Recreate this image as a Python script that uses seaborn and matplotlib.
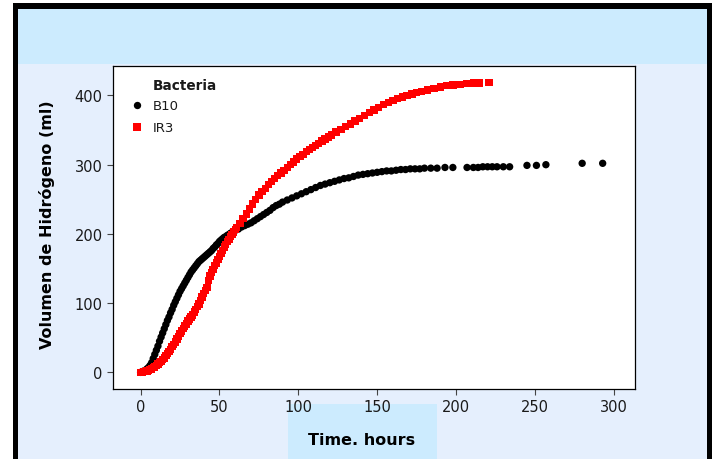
import numpy as np
import pandas as pd
import matplotlib.pyplot as plt
import seaborn as sns
from matplotlib.patches import Rectangle

# B10 - horas / volumen (ml)
b10_t = [0, 1, 2, 3, 4, 5, 6, 7, 8, 9, 10, 11, 12, 13, 14, 15, 16, 17, 18, 19,
         20, 21, 22, 23, 24, 25, 26, 27, 28, 29, 30, 31, 32, 33, 34, 35, 36, 37, 38, 39,
         40, 41, 42, 43, 44, 45, 46, 47, 48, 49, 50, 51, 52, 53, 54, 55, 56, 57, 58, 59,
         60, 62, 64, 66, 68, 70, 72, 74, 76, 78, 80, 82, 84, 86, 88, 90, 93, 96, 99,
         102, 105, 108, 111, 114, 117, 120, 123, 126, 129, 132, 135, 138,
         141, 144, 147, 150, 153, 156, 159, 162, 165, 168, 171, 174, 177, 180, 184, 188,
         193, 198, 207, 211, 214, 217, 220, 223, 226, 230, 234, 245, 251, 257, 280, 293]
b10_v = [0, 1, 2, 3, 5, 7, 10, 14, 20, 26, 32, 38, 45, 51, 57, 63, 69, 75, 80, 86,
         91, 97, 102, 107, 112, 117, 121, 125, 129, 133, 137, 141, 145, 148, 151, 154, 157, 160, 162, 164,
         166, 168, 170, 172, 174, 176, 179, 181, 184, 186, 189, 191, 193, 195, 196, 198, 199, 201, 202, 204,
         205, 207, 210, 212, 214, 216, 219, 222, 225, 228, 231, 234, 238, 241, 243, 246, 249, 252, 255,
         258, 261, 264, 267, 270, 272, 274, 276, 278, 280, 281, 283, 285,
         286, 287, 288, 289, 290, 291, 291, 292, 293, 293, 294, 294, 294, 295, 295, 295,
         296, 296, 296, 296, 296, 297, 297, 297, 297, 297, 297, 299, 299, 300, 302, 302]

# IR3
ir3_t = [0, 1, 2, 3, 4, 5, 6, 7, 8, 9, 10, 11, 12, 13, 14, 15, 16, 17, 18, 19,
         20, 21, 22, 23, 24, 25, 26, 27, 28, 29, 30, 31, 32, 33, 34, 35, 36, 37, 38, 39,
         40, 41, 42, 43, 44, 45, 46, 47, 48, 49, 50, 51, 52, 53, 54, 55, 56, 57, 58, 59,
         60, 61, 63, 65, 67, 69, 71, 73, 75, 77,
         79, 81, 83, 85, 87, 89, 91, 93, 95, 97, 99, 101, 103, 105, 107, 109, 111, 113,
         115, 117, 119, 121, 124, 127, 130, 133, 136, 139, 142, 145, 148, 151, 154, 157,
         160, 163, 166, 169, 172, 175, 178, 182, 186, 190, 194, 198, 203, 207, 211, 215, 221]
ir3_v = [0, 0, 1, 1, 2, 3, 4, 5, 7, 8, 10, 12, 14, 16, 19, 21, 24, 27, 30, 33,
         37, 40, 44, 48, 52, 56, 60, 63, 67, 70, 74, 77, 80, 83, 87, 91, 95, 99, 104, 109,
         114, 118, 123, 133, 139, 144, 149, 154, 158, 163, 167, 172, 176, 181, 185, 189, 192, 196, 199, 203,
         206, 209, 215, 222, 229, 236, 243, 250, 256, 261,
         266, 271, 276, 280, 284, 288, 292, 296, 300, 304, 308, 312, 315, 319, 322, 325, 328, 331,
         334, 337, 340, 343, 347, 351, 355, 359, 363, 367, 371, 375, 379, 383, 387, 390,
         393, 396, 398, 400, 402, 404, 406, 408, 410, 412, 414, 415, 416, 417, 418, 418, 419]

df = pd.concat([
    pd.DataFrame({'Time': b10_t, 'Volumen': b10_v, 'Bacteria': 'B10'}),
    pd.DataFrame({'Time': ir3_t, 'Volumen': ir3_v, 'Bacteria': 'IR3'}),
])

sns.set_style("ticks")
plt.rcParams['font.family'] = ['DejaVu Sans']

W, H = 715, 460
fig = plt.figure(figsize=(7.15, 4.6), dpi=100, facecolor='white')

# marco y fondos (detras de los ejes)
def caja(x0, y0, x1, y1, color):
    fig.patches.append(Rectangle((x0 / W, 1 - y1 / H), (x1 - x0) / W, (y1 - y0) / H,
                                 transform=fig.transFigure, facecolor=color,
                                 edgecolor='none', zorder=-5))

caja(13, 4, 712, 460, 'black')
caja(18, 10, 707, 460, '#E5EFFD')
caja(18, 10, 707, 65, '#CCEBFE')
caja(288, 405, 437, 460, '#CCEBFE')

ax = fig.add_axes([113 / W, 1 - 390 / H, (635 - 113) / W, (390 - 66.7) / H])
ax.set_facecolor('white')

sns.scatterplot(data=df, x='Time', y='Volumen', hue='Bacteria', style='Bacteria',
                palette={'B10': 'black', 'IR3': 'red'}, markers={'B10': 'o', 'IR3': 's'},
                s=28, linewidth=0, ax=ax)

ax.set_xlim(-17.5, 313.5)
ax.set_ylim(-24, 443)
ax.set_xticks(range(0, 301, 50))
ax.set_yticks(range(0, 401, 100))
ax.tick_params(labelsize=10.5, length=4, width=0.8, color='#444444', labelcolor='#1a1a1a')
for sp in ax.spines.values():
    sp.set_color('black')
    sp.set_linewidth(0.9)

ax.set_xlabel('Time. hours', fontsize=11.5, fontweight='bold', color='black')
ax.xaxis.set_label_coords(0.477, -0.155)
ax.xaxis.label.set_va('center')
ax.set_ylabel('Volumen de Hidrógeno (ml)', fontsize=11.5, fontweight='bold', color='black')
ax.yaxis.set_label_coords(-0.126, 0.51)
ax.yaxis.label.set_va('center')

# leyenda: titulo alineado con los textos
leg = ax.legend(loc='upper left', bbox_to_anchor=(0.023, 0.912), borderaxespad=0,
                frameon=False, fontsize=9.5, handlelength=1.0, handletextpad=0.7,
                labelspacing=0.68)
for t in leg.get_texts():
    t.set_color('#1a1a1a')
ax.text(0.0766, 0.940, 'Bacteria', transform=ax.transAxes, fontsize=9.8,
        fontweight='bold', va='center', ha='left', color='#1a1a1a')

fig.savefig('out.png', dpi=100, facecolor=fig.get_facecolor())
